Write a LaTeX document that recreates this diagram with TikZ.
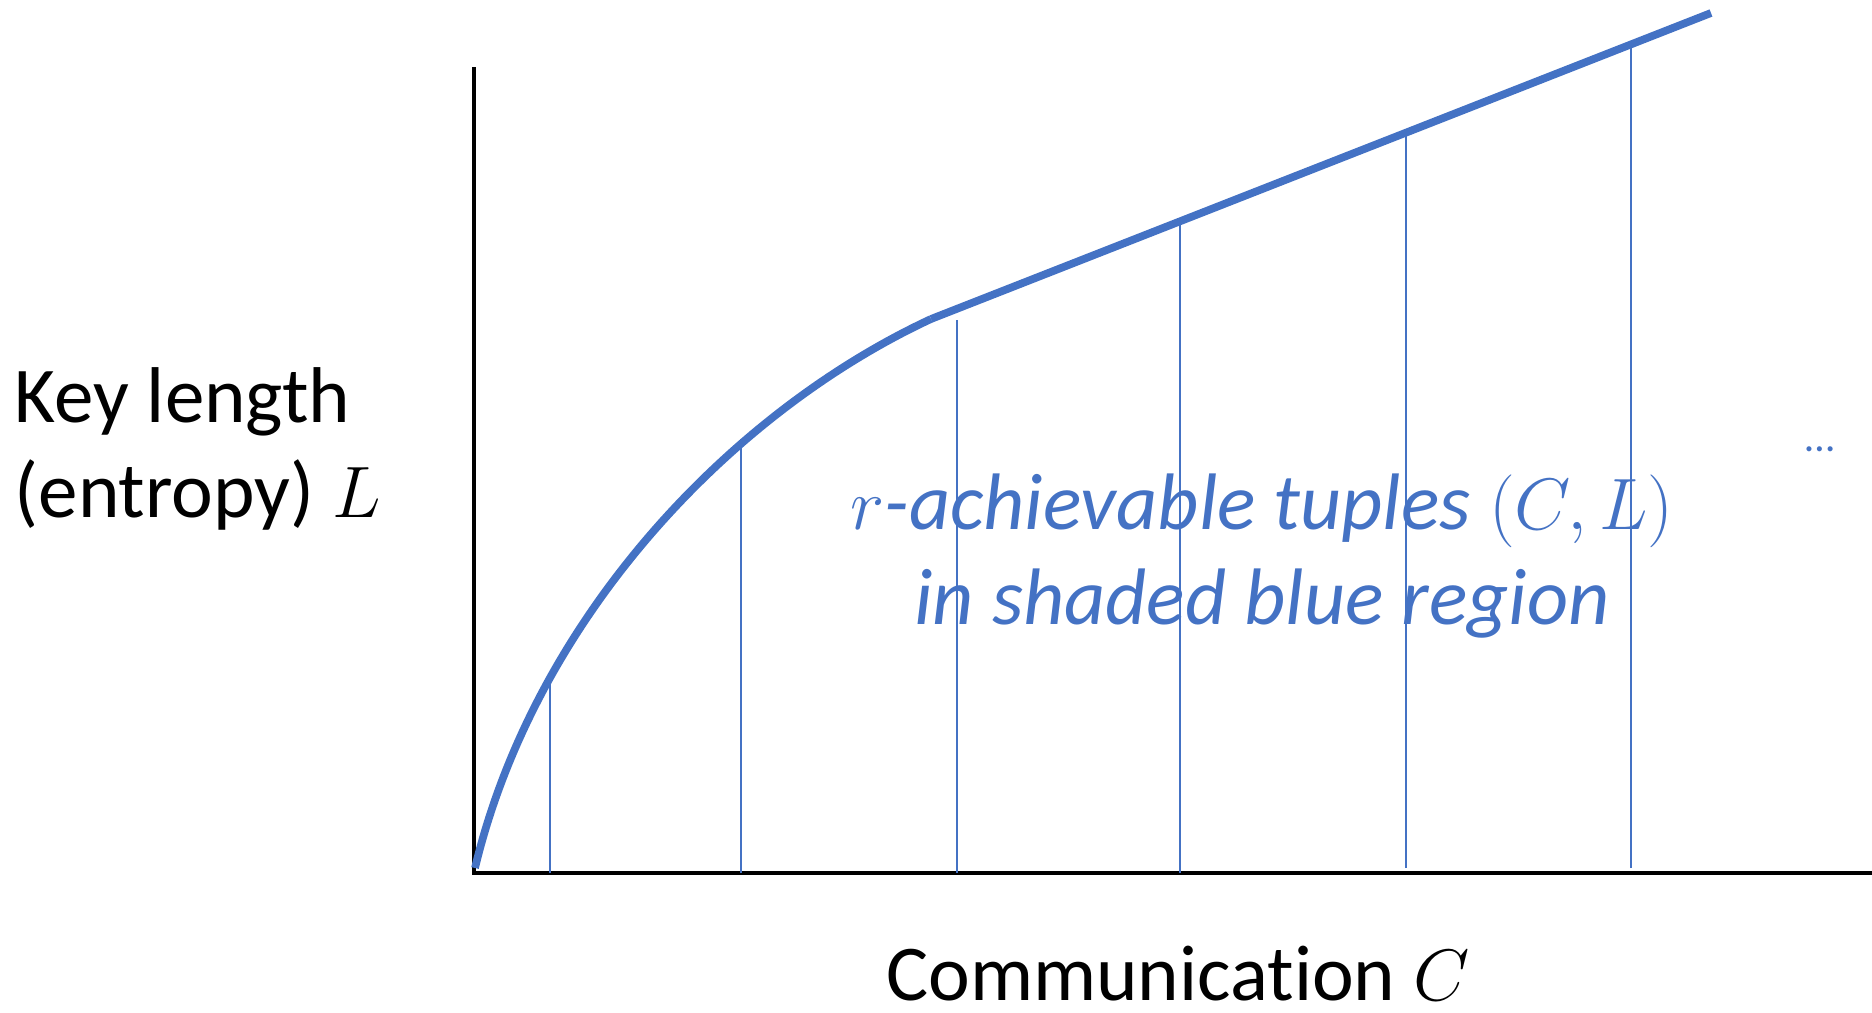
\documentclass[tikz,border=0pt]{standalone}
\usepackage{fontspec}
\setmainfont{Carlito}[Ligatures=NoCommon]
\usepackage{tikz}
\usetikzlibrary{arrows.meta, positioning}
\definecolor{regionblue}{HTML}{4472C4}
\tikzset{
  axis/.style={draw=black, line width=1pt},
  frontier/.style={draw=regionblue, line width=2.2pt},
  shade/.style={draw=regionblue, line width=0.35pt},
  axislabel/.style={font=\fontsize{22.5}{27}\selectfont, inner sep=0pt},
  regionlabel/.style={font=\fontsize{22.8}{27}\selectfont\itshape, text=regionblue,
    align=center, inner sep=0pt},
  note/.style={font=\fontsize{12}{14}\selectfont, text=regionblue, inner sep=0pt}
}

\begin{document}
\begin{tikzpicture}[x=1cm,y=1cm]
\useasboundingbox (0,0) rectangle (18.72,10.12);

% axes
\coordinate (origin) at (4.74,1.39);
\coordinate (ytop) at (4.74,9.45);
\coordinate (xend) at (18.72,1.39);
\draw[axis] (ytop) -- (origin) -- (xend);

% vertical shading of the region
\draw[shade] (5.50,1.39) -- (5.50,3.37);
\draw[shade] (7.41,1.39) -- (7.41,5.73);
\draw[shade] (9.57,1.39) -- (9.57,6.92);
\draw[shade] (11.80,1.39) -- (11.80,7.88);
\draw[shade] (14.06,1.44) -- (14.06,8.77);
\draw[shade] (16.31,1.44) -- (16.31,9.64);

% frontier: curved part, then straight
\coordinate (start) at (4.75,1.44);
\coordinate (kink) at (9.31,6.93);
\coordinate (far) at (17.11,9.99);
\draw[frontier] (start) .. controls (5.35,3.94) and (7.31,6.00) .. (kink);
\draw[frontier] (kink) -- (far);

% labels
\node[axislabel, align=left, anchor=west] (ylabel) at (0.14,5.63)
  {Key length\\(entropy) $L$};
\node[axislabel, anchor=base] (xlabel) at (11.78,0.12) {Communication $C$};
\node[regionlabel, anchor=base] (region) at (12.62,3.88)
  {$r$-achievable tuples $(C,L)$\\in shaded blue region};
\node[note] (dots) at (18.20,5.63) {\ldots};
\end{tikzpicture}
\end{document}
